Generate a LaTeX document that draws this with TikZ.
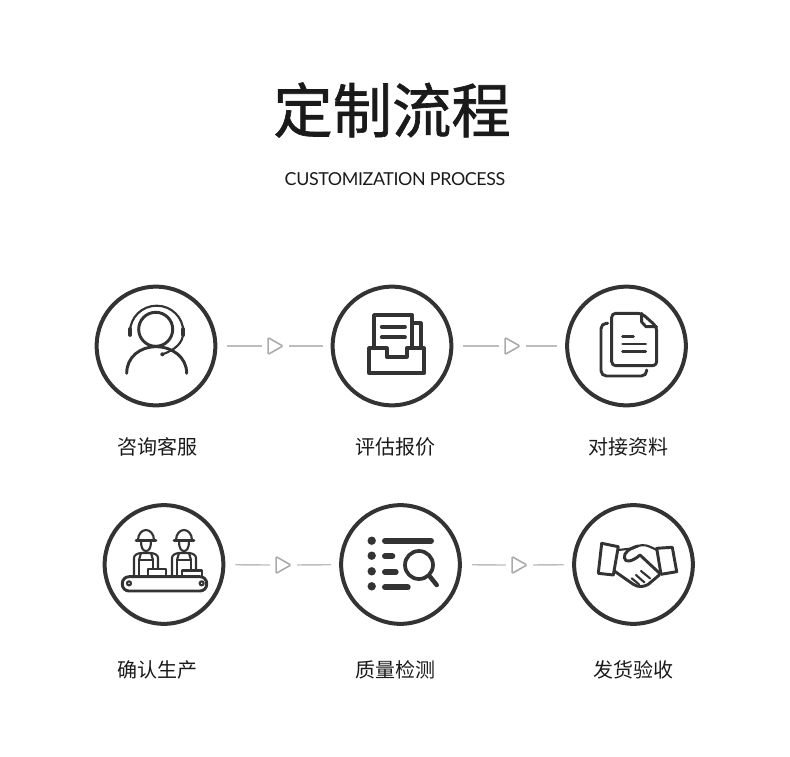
\documentclass[tikz,border=0pt]{standalone}
\usepackage{fontspec}
\setmainfont{Lato}
\newfontfamily\cjk{Noto Sans CJK SC}
\newfontfamily\cjktitle[FakeBold=1.1]{Noto Sans CJK SC}
\newfontfamily\subfont[LetterSpace=-2.2]{Lato}
\usetikzlibrary{shapes.geometric}
\definecolor{inkgrey}{HTML}{333333}
\definecolor{titleblack}{HTML}{1A1A1A}
\definecolor{linkgrey}{HTML}{BDBDBD}
\definecolor{tipgrey}{HTML}{ABABAB}
\begin{document}
\begin{tikzpicture}[x=0.75pt,y=0.75pt,yscale=-1,xscale=1,
	ringnode/.style={circle,draw=inkgrey,line width=3pt,minimum size=89pt,inner sep=0pt},
	tipnode/.style={isosceles triangle,isosceles triangle stretches,draw=tipgrey,line width=1.2pt,rounded corners=0.8pt,minimum width=12.5pt,minimum height=11pt,inner sep=0pt},
	linkline/.style={draw=linkgrey,line width=1pt},
	linkin/.style={linkline,shorten <=7.5pt,shorten >=4.2pt},
	linkout/.style={linkline,shorten <=3.2pt,shorten >=6pt},
	stepname/.style={font=\cjk\fontsize{15pt}{18pt}\selectfont,text=titleblack,inner sep=0pt},
	iconthick/.style={draw=inkgrey,line width=2.8pt,line cap=round,line join=round},
	iconmid/.style={draw=inkgrey,line width=2.2pt,line cap=round,line join=round},
	iconthin/.style={draw=inkgrey,line width=1.6pt,line cap=round,line join=round}]
\useasboundingbox (0,0) rectangle (790,757);

% Text Node
\node (title) [font=\cjktitle\fontsize{44.5pt}{50pt}\selectfont,text=titleblack,inner sep=0pt] at (392,110) {定制流程};
% Text Node
\node (subtitle) [font=\subfont\fontsize{13.4pt}{16pt}\selectfont,text=titleblack,inner sep=0pt] at (395,179.5) {CUSTOMIZATION PROCESS};

%Shape: Rings
\node (ringA) [ringnode] at (156,346) {};
\node (ringB) [ringnode] at (392,346) {};
\node (ringC) [ringnode] at (626.5,346) {};
\node (ringD) [ringnode] at (164,564.5) {};
\node (ringE) [ringnode] at (400.5,564.5) {};
\node (ringF) [ringnode] at (633.5,564.5) {};

%Shape: Triangles
\node (tipAB) [tipnode] at (273,346) {};
\node (tipBC) [tipnode] at (510,346) {};
\node (tipDE) [tipnode] at (281,565) {};
\node (tipEF) [tipnode] at (517,565) {};

%Shape: Links
\draw [linkin] (ringA) -- (tipAB);
\draw [linkout] (tipAB) -- (ringB);
\draw [linkin] (ringB) -- (tipBC);
\draw [linkout] (tipBC) -- (ringC);
\draw [linkin] (ringD) -- (tipDE);
\draw [linkout] (tipDE) -- (ringE);
\draw [linkin] (ringE) -- (tipEF);
\draw [linkout] (tipEF) -- (ringF);

% Text Node
\node (nameA) [stepname] at (157.5,446.5) {咨询客服};
\node (nameB) [stepname] at (395.5,446.5) {评估报价};
\node (nameC) [stepname] at (628.5,446.5) {对接资料};
\node (nameD) [stepname] at (157.5,670) {确认生产};
\node (nameE) [stepname] at (395.5,670) {质量检测};
\node (nameF) [stepname] at (633.5,670) {发货验收};

%Shape: Headset person
\draw [iconmid] (155.7,329.3) circle [radius=17];
\draw [iconthin] (130,332) .. controls (130,317.3) and (142,305.7) .. (156.7,305.7) .. controls (171.4,305.7) and (183.3,317.3) .. (183.3,332) .. controls (183.3,343) and (175,350) .. (162,354.5);
\draw [iconthick] (130,329) -- (130,335);
\draw [iconthick] (183.3,329) -- (183.3,335);
\fill [inkgrey] (162.3,354.3) circle [radius=2];
\draw [iconmid] (126.7,373.3) .. controls (126.7,357) and (140,346.7) .. (156,346.7) .. controls (172,346.7) and (186.7,357) .. (186.7,373.3);

%Shape: Paper tray
\draw [iconthick] (369.3,348.3) -- (386.7,348.3) -- (386.7,356.7) -- (406.7,356.7) -- (406.7,348.3) -- (424,348.3) -- (424,373.3) -- (369.3,373.3) -- cycle;
\draw [iconthick] (374,348.3) -- (374,315) -- (412.3,315) -- (412.3,348.3);
\draw [iconthick] (412.3,323.3) -- (420.7,323.3) -- (420.7,348.3);
\draw [iconthick] (381.7,326.7) -- (405,326.7);
\draw [iconthick] (381.7,337.3) -- (405,337.3);

%Shape: Documents
\draw [iconmid,rounded corners=3pt] (641.7,313.3) -- (611.7,313.3) -- (611.7,365.7) -- (656.7,365.7) -- (656.7,326.7) -- cycle;
\draw [iconmid] (641.7,313.3) -- (641.7,322) -- (646,326.7) -- (656.7,326.7);
\draw [iconmid,rounded corners=4pt] (607.7,323.3) -- (601,323.3) -- (601,376) -- (646.7,376) -- (646.7,370);
\draw [iconmid] (622.7,336.7) -- (633.3,336.7);
\draw [iconmid] (622.7,344) -- (645.7,344);
\draw [iconmid] (622.7,351.3) -- (645.7,351.3);

%Shape: Conveyor
\draw [iconmid,rounded corners=5pt] (122.3,576.7) rectangle (206.7,591);
\draw [iconthin] (129,583.3) circle [radius=2];
\draw [iconthin] (201.7,583.3) circle [radius=2];
\draw [iconthin] (147.7,576.7) -- (147.7,569) -- (165.7,569) -- (165.7,576.7);
\draw [iconthin] (181.7,576.7) -- (181.7,570.5) -- (201.7,570.5) -- (201.7,576.7);

%Shape: Worker left
\draw [iconthin] (138,540) .. controls (138,534) and (142,530) .. (146,530) .. controls (150,530) and (154,534) .. (154,540);
\draw [iconmid] (136,540.5) -- (156,540.5);
\draw [iconthin] (141,541) .. controls (141,548) and (143,551) .. (146,551) .. controls (149,551) and (151,548) .. (151,541);
\draw [iconthin] (134,576) -- (134,558) .. controls (134,555) and (137,553.5) .. (141,553) -- (151,553) .. controls (155,553.5) and (158,555) .. (158,558) -- (158,568);
\draw [iconthin] (139,576) -- (139,560) -- (153,560) -- (153,568);
\draw [iconthin] (141,553) -- (139,560);
\draw [iconthin] (151,553) -- (153,560);

%Shape: Worker right
\draw [iconthin] (176,540) .. controls (176,534) and (180,530) .. (184,530) .. controls (188,530) and (192,534) .. (192,540);
\draw [iconmid] (174,540.5) -- (194,540.5);
\draw [iconthin] (179,541) .. controls (179,548) and (181,551) .. (184,551) .. controls (187,551) and (189,548) .. (189,541);
\draw [iconthin] (172,576) -- (172,558) .. controls (172,555) and (175,553.5) .. (179,553) -- (189,553) .. controls (193,553.5) and (196,555) .. (196,558) -- (196,570);
\draw [iconthin] (177,576) -- (177,560) -- (191,560) -- (191,570);
\draw [iconthin] (179,553) -- (177,560);
\draw [iconthin] (189,553) -- (191,560);

%Shape: List with lens
\fill [inkgrey] (371.7,540.7) circle [radius=4.2];
\fill [inkgrey] (371.7,555.7) circle [radius=4.2];
\fill [inkgrey] (371.7,571.3) circle [radius=4.2];
\fill [inkgrey] (371.7,586.3) circle [radius=4.2];
\draw [iconthick,line width=4.5pt] (385,540.7) -- (431,540.7);
\draw [iconthick,line width=4.5pt] (385,556.3) -- (392.3,556.3);
\draw [iconthick,line width=4.5pt] (385,572) -- (395.7,572);
\draw [iconthick,line width=4.5pt] (385,587.3) -- (407.7,587.3);
\draw [iconthick] (419,565) circle [radius=14];
\draw [iconthick,line width=3.4pt] (430,576.7) -- (436.7,585);

%Shape: Handshake
\draw [iconmid] (601.7,543.3) -- (618.3,546.7) -- (613.3,575) -- (598.3,573.3) -- cycle;
\draw [iconmid] (656.7,548.3) -- (672.3,547.3) -- (676.7,571.7) -- (661,574.3) -- cycle;
\draw [iconthin] (618.3,550) -- (633.3,548.3) .. controls (637,545) and (645,544) .. (650,546.7) -- (656.7,550);
\draw [iconmid] (638,546) .. controls (630,548) and (623,553) .. (624.5,558) .. controls (625,563) and (632,562) .. (640,555) -- (659.3,573);
\draw [iconmid] (614.3,571) -- (633.3,584.3) .. controls (638,587.5) and (644,587) .. (648.3,584.3) -- (659.3,575);
\draw [iconthin] (631.7,578.3) -- (639,584.3);
\draw [iconthin] (636,575) -- (644.3,582.3);
\draw [iconthin] (641,571) -- (650,578.3);

\end{tikzpicture}
\end{document}
